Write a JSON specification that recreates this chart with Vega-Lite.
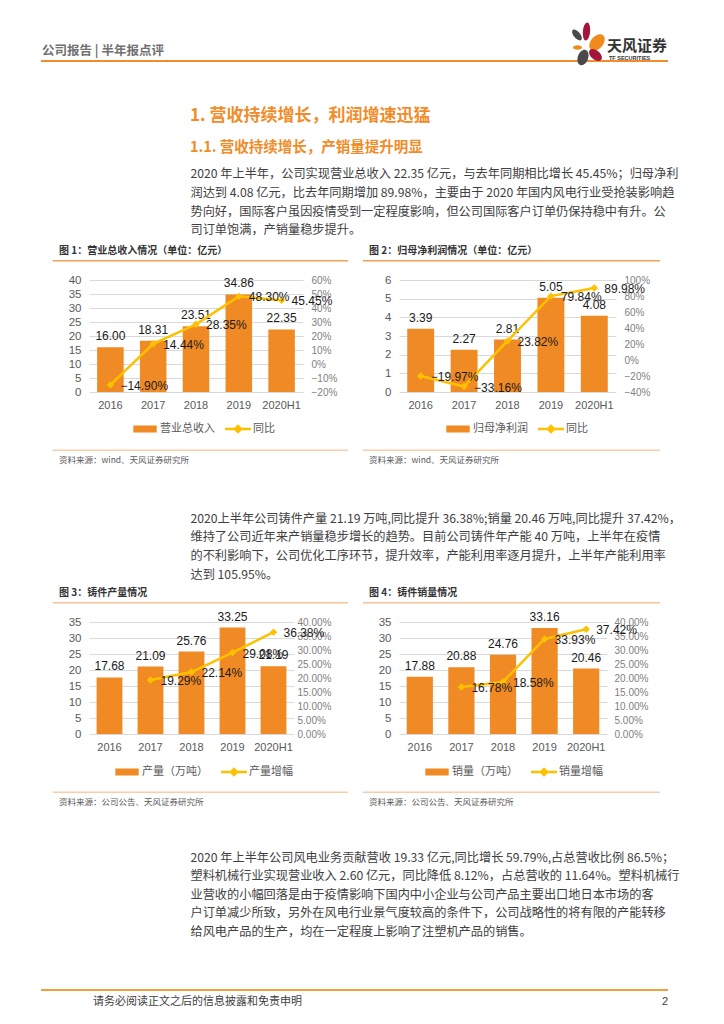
{
  "$schema": "https://vega.github.io/schema/vega-lite/v6.json",
  "padding": 0,
  "background": "white",
  "columns": 4,
  "spacing": 0,
  "bounds": "flush",
  "align": {"row": "each", "column": "none"},
  "resolve": {"scale": {"color": "independent"}, "legend": {"color": "independent"}},
  "config": {"view": {"stroke": null}, "font": "Noto Sans CJK SC"},
  "concat": [
    {
      "width": 89, "height": 280,
      "data": {"values": [{}]},
      "layer": [
        {"mark": {"type": "text", "text": "公司报告 | 半年报点评", "x": 42, "y": 51, "align": "left", "baseline": "middle", "fontSize": 12.5, "fontWeight": "bold", "color": "#707070"}},
        {"mark": {"type": "rule", "color": "#F08C2B", "strokeWidth": 2}, "encoding": {"x": {"value": 41}, "x2": {"value": 668}, "y": {"value": 61}}},
        {"mark": {"type": "point", "filled": true, "opacity": 1, "shape": "M0,-1C0.28,-1 0.5,-0.55 0.5,0C0.5,0.55 0.28,1 0,1C-0.28,1 -0.5,0.55 -0.5,0C-0.5,-0.55 -0.28,-1 0,-1Z", "size": 169, "angle": -40, "color": "#4A4A4A"}, "encoding": {"x": {"value": 577}, "y": {"value": 35}}},
        {"mark": {"type": "point", "filled": true, "opacity": 1, "shape": "M0,-1C0.22,-1 0.4,-0.55 0.4,0C0.4,0.55 0.22,1 0,1C-0.22,1 -0.4,0.55 -0.4,0C-0.4,-0.55 -0.22,-1 0,-1Z", "size": 324, "angle": 5, "color": "#A3153A"}, "encoding": {"x": {"value": 586.5}, "y": {"value": 31.5}}},
        {"mark": {"type": "point", "filled": true, "opacity": 1, "shape": "M0,-1C0.36,-1 0.65,-0.55 0.65,0C0.65,0.55 0.36,1 0,1C-0.36,1 -0.65,0.55 -0.65,0C-0.65,-0.55 -0.36,-1 0,-1Z", "size": 361, "angle": 40, "color": "#F08A1C"}, "encoding": {"x": {"value": 597}, "y": {"value": 42.5}}},
        {"mark": {"type": "point", "filled": true, "opacity": 1, "shape": "M0,-1C0.28,-1 0.5,-0.55 0.5,0C0.5,0.55 0.28,1 0,1C-0.28,1 -0.5,0.55 -0.5,0C-0.5,-0.55 -0.28,-1 0,-1Z", "size": 81, "angle": 90, "color": "#F08A1C"}, "encoding": {"x": {"value": 577.5}, "y": {"value": 47.5}}},
        {"mark": {"type": "point", "filled": true, "opacity": 1, "shape": "M0,-1C0.33,-1 0.6,-0.55 0.6,0C0.6,0.55 0.33,1 0,1C-0.33,1 -0.6,0.55 -0.6,0C-0.6,-0.55 -0.33,-1 0,-1Z", "size": 225, "angle": 130, "color": "#A3153A"}, "encoding": {"x": {"value": 595.5}, "y": {"value": 55}}},
        {"mark": {"type": "point", "filled": true, "opacity": 1, "shape": "M0,-1C0.36,-1 0.65,-0.55 0.65,0C0.65,0.55 0.36,1 0,1C-0.36,1 -0.65,0.55 -0.65,0C-0.65,-0.55 -0.36,-1 0,-1Z", "size": 256, "angle": 20, "color": "#4A4A4A"}, "encoding": {"x": {"value": 583}, "y": {"value": 57.5}}},
        {"mark": {"type": "text", "text": "天风证券", "x": 607, "y": 46, "align": "left", "baseline": "middle", "fontSize": 15, "fontWeight": "bold", "color": "#333333"}},
        {"mark": {"type": "text", "text": "TF SECURITIES", "x": 609, "y": 57.5, "align": "left", "baseline": "middle", "fontSize": 5.5, "fontWeight": "bold", "color": "#333333", "font": "Liberation Sans"}},
        {"mark": {"type": "text", "text": "1. 营收持续增长，利润增速迅猛", "x": 190, "y": 116, "align": "left", "baseline": "middle", "fontSize": 17, "fontWeight": "bold", "color": "#F28C28"}},
        {"mark": {"type": "text", "text": "1.1. 营收持续增长，产销量提升明显", "x": 190, "y": 147.5, "align": "left", "baseline": "middle", "fontSize": 14.5, "fontWeight": "bold", "color": "#F28C28"}},
        {"mark": {"type": "text", "text": ["2020 年上半年，公司实现营业总收入 22.35 亿元，与去年同期相比增长 45.45%；归母净利", "润达到 4.08 亿元，比去年同期增加 89.98%，主要由于 2020  年国内风电行业受抢装影响趋", "势向好，国际客户虽因疫情受到一定程度影响，但公司国际客户订单仍保持稳中有升。公", "司订单饱满，产销量稳步提升。"], "x": 190.5, "y": 178, "align": "left", "baseline": "alphabetic", "lineHeight": 18.8, "fontSize": 12.2, "color": "#404040"}},
        {"mark": {"type": "text", "text": "图 1：营业总收入情况（单位：亿元）", "x": 59, "y": 251.3, "align": "left", "baseline": "middle", "fontSize": 10, "fontWeight": "bold", "color": "#333333"}},
        {"mark": {"type": "text", "text": "图 2：归母净利润情况（单位：亿元）", "x": 369, "y": 251.3, "align": "left", "baseline": "middle", "fontSize": 10, "fontWeight": "bold", "color": "#333333"}},
        {"mark": {"type": "rule", "color": "#F2A05A", "strokeWidth": 1.5}, "encoding": {"x": {"value": 52.7}, "x2": {"value": 348}, "y": {"value": 260.7}}},
        {"mark": {"type": "rule", "color": "#F2A05A", "strokeWidth": 1.5}, "encoding": {"x": {"value": 363}, "x2": {"value": 660}, "y": {"value": 260.7}}}
      ]
    },
    {"width": 1, "height": 1, "data": {"values": []}, "mark": "text"},
    {"width": 1, "height": 1, "data": {"values": []}, "mark": "text"},
    {"width": 1, "height": 1, "data": {"values": []}, "mark": "text"},

    {"width": 89, "height": 112, "data": {"values": []}, "mark": "text"},
    {
      "width": 214, "height": 112,
      "data": {"values": [
        {"year": "2016", "v": 16.00, "g": -0.1490},
        {"year": "2017", "v": 18.31, "g": 0.1444},
        {"year": "2018", "v": 23.51, "g": 0.2835},
        {"year": "2019", "v": 34.86, "g": 0.4830},
        {"year": "2020H1", "v": 22.35, "g": 0.4545}
      ]},
      "encoding": {"x": {"field": "year", "type": "nominal", "sort": null, "scale": {"paddingInner": 0.38, "paddingOuter": 0.19}, "axis": {"title": null, "labelAngle": 0, "domain": false, "ticks": false, "labelPadding": 7, "labelFontSize": 11, "labelColor": "#595959", "labelFont": "Liberation Sans"}}},
      "layer": [
        {
          "encoding": {"y": {"field": "v", "type": "quantitative", "scale": {"domain": [0, 40], "nice": false}, "axis": {"title": null, "values": [0, 5, 10, 15, 20, 25, 30, 35, 40], "grid": true, "gridColor": "#D9D9D9", "domain": false, "ticks": false, "labelPadding": 8, "labelFontSize": 11.5, "labelColor": "#595959", "labelFont": "Liberation Sans"}}},
          "layer": [
            {"mark": {"type": "bar"}, "encoding": {"color": {"datum": "营业总收入", "scale": {"domain": ["营业总收入", "同比"], "range": ["#F08A24", "#FFC000"]}, "legend": {"orient": "none", "legendX": 43, "legendY": 136, "direction": "horizontal", "title": null, "labelFontSize": 11, "labelColor": "#595959", "labelFont": "Noto Sans CJK SC", "symbolSize": 676, "labelOffset": 2, "columnPadding": 10, "padding": 0, "symbolType": "M-0.9,-0.27H0.9V0.27H-0.9Z", "encode": {"symbols": {"update": {"shape": {"signal": "datum.value === '同比' ? 'M-1,-0.09H1V0.09H-1Z M0,-0.37L0.37,0L0,0.37L-0.37,0Z' : 'M-0.9,-0.27H0.9V0.27H-0.9Z'"}, "fill": {"signal": "datum.value === '同比' ? '#FFC000' : '#F08A24'"}, "stroke": {"value": "transparent"}, "strokeWidth": {"value": 0}, "opacity": {"value": 1}}}}}}}},
            {"mark": {"type": "text", "dy": -11, "fontSize": 12, "font": "Liberation Sans", "color": "#1a1a1a"}, "encoding": {"text": {"field": "v", "format": ".2f"}}}
          ]
        },
        {
          "encoding": {"y": {"field": "g", "type": "quantitative", "scale": {"domain": [-0.2, 0.6], "nice": false, "zero": false}, "axis": {"orient": "right", "title": null, "values": [-0.2, -0.1, 0, 0.1, 0.2, 0.3, 0.4, 0.5, 0.6], "format": ".0%", "grid": false, "domain": false, "ticks": false, "labelPadding": 8, "labelFontSize": 10, "labelColor": "#7f7f7f", "labelFont": "Liberation Sans"}}},
          "layer": [
            {"mark": {"type": "line", "strokeWidth": 2.5, "point": {"shape": "diamond", "size": 55, "filled": true, "opacity": 1}}, "encoding": {"color": {"datum": "同比"}}},
            {"mark": {"type": "text", "align": "left", "dx": 10, "dy": 1, "fontSize": 12, "font": "Liberation Sans", "color": "#1a1a1a"}, "encoding": {"text": {"field": "g", "format": ".2%"}}}
          ]
        }
      ],
      "resolve": {"scale": {"y": "independent"}}
    },
    {"width": 77, "height": 112, "data": {"values": []}, "mark": "text"},
    {
      "width": 217, "height": 112,
      "data": {"values": [
        {"year": "2016", "v": 3.39, "g": -0.1997},
        {"year": "2017", "v": 2.27, "g": -0.3316},
        {"year": "2018", "v": 2.81, "g": 0.2382},
        {"year": "2019", "v": 5.05, "g": 0.7984},
        {"year": "2020H1", "v": 4.08, "g": 0.8998}
      ]},
      "encoding": {"x": {"field": "year", "type": "nominal", "sort": null, "scale": {"paddingInner": 0.38, "paddingOuter": 0.19}, "axis": {"title": null, "labelAngle": 0, "domain": false, "ticks": false, "labelPadding": 7, "labelFontSize": 11, "labelColor": "#595959", "labelFont": "Liberation Sans"}}},
      "layer": [
        {
          "encoding": {"y": {"field": "v", "type": "quantitative", "scale": {"domain": [0, 6], "nice": false}, "axis": {"title": null, "values": [0, 1, 2, 3, 4, 5, 6], "grid": true, "gridColor": "#D9D9D9", "domain": false, "ticks": false, "labelPadding": 8, "labelFontSize": 11.5, "labelColor": "#595959", "labelFont": "Liberation Sans"}}},
          "layer": [
            {"mark": {"type": "bar"}, "encoding": {"color": {"datum": "归母净利润", "scale": {"domain": ["归母净利润", "同比"], "range": ["#F08A24", "#FFC000"]}, "legend": {"orient": "none", "legendX": 46, "legendY": 136, "direction": "horizontal", "title": null, "labelFontSize": 11, "labelColor": "#595959", "labelFont": "Noto Sans CJK SC", "symbolSize": 676, "labelOffset": 2, "columnPadding": 10, "padding": 0, "symbolType": "M-0.9,-0.27H0.9V0.27H-0.9Z", "encode": {"symbols": {"update": {"shape": {"signal": "datum.value === '同比' ? 'M-1,-0.09H1V0.09H-1Z M0,-0.37L0.37,0L0,0.37L-0.37,0Z' : 'M-0.9,-0.27H0.9V0.27H-0.9Z'"}, "fill": {"signal": "datum.value === '同比' ? '#FFC000' : '#F08A24'"}, "stroke": {"value": "transparent"}, "strokeWidth": {"value": 0}, "opacity": {"value": 1}}}}}}}},
            {"mark": {"type": "text", "dy": -11, "fontSize": 12, "font": "Liberation Sans", "color": "#1a1a1a"}, "encoding": {"text": {"field": "v", "format": ".2f"}}}
          ]
        },
        {
          "encoding": {"y": {"field": "g", "type": "quantitative", "scale": {"domain": [-0.4, 1.0], "nice": false, "zero": false}, "axis": {"orient": "right", "title": null, "values": [-0.4, -0.2, 0, 0.2, 0.4, 0.6, 0.8, 1.0], "format": ".0%", "grid": false, "domain": false, "ticks": false, "labelPadding": 8, "labelFontSize": 10, "labelColor": "#7f7f7f", "labelFont": "Liberation Sans"}}},
          "layer": [
            {"mark": {"type": "line", "strokeWidth": 2.5, "point": {"shape": "diamond", "size": 55, "filled": true, "opacity": 1}}, "encoding": {"color": {"datum": "同比"}}},
            {"mark": {"type": "text", "align": "left", "dx": 10, "dy": 1, "fontSize": 12, "font": "Liberation Sans", "color": "#1a1a1a"}, "encoding": {"text": {"field": "g", "format": ".2%"}}}
          ]
        }
      ],
      "resolve": {"scale": {"y": "independent"}}
    },

    {
      "width": 89, "height": 230,
      "data": {"values": [{}]},
      "layer": [
        {"mark": {"type": "rule", "color": "#F9CDA8", "strokeWidth": 1.5}, "encoding": {"x": {"value": 52.7}, "x2": {"value": 348}, "y": {"value": 58.3}}},
        {"mark": {"type": "rule", "color": "#F9CDA8", "strokeWidth": 1.5}, "encoding": {"x": {"value": 363}, "x2": {"value": 660}, "y": {"value": 58.3}}},
        {"mark": {"type": "text", "text": "资料来源：wind、天风证券研究所", "x": 59, "y": 67.7, "align": "left", "baseline": "middle", "fontSize": 8.5, "color": "#595959"}},
        {"mark": {"type": "text", "text": "资料来源：wind、天风证券研究所", "x": 369, "y": 67.7, "align": "left", "baseline": "middle", "fontSize": 8.5, "color": "#595959"}},
        {"mark": {"type": "text", "text": ["2020上半年公司铸件产量 21.19 万吨,同比提升 36.38%;销量 20.46 万吨,同比提升 37.42%，", "维持了公司近年来产销量稳步增长的趋势。目前公司铸件年产能  40 万吨，上半年在疫情", "的不利影响下，公司优化工序环节，提升效率，产能利用率逐月提升，上半年产能利用率", "达到 105.95%。"], "x": 190.5, "y": 130.6, "align": "left", "baseline": "alphabetic", "lineHeight": 18.9, "fontSize": 12.2, "color": "#404040"}},
        {"mark": {"type": "text", "text": "图 3：铸件产量情况", "x": 59, "y": 201.3, "align": "left", "baseline": "middle", "fontSize": 10, "fontWeight": "bold", "color": "#333333"}},
        {"mark": {"type": "text", "text": "图 4：铸件销量情况", "x": 369, "y": 201.3, "align": "left", "baseline": "middle", "fontSize": 10, "fontWeight": "bold", "color": "#333333"}},
        {"mark": {"type": "rule", "color": "#F7C29A", "strokeWidth": 1.5}, "encoding": {"x": {"value": 52.7}, "x2": {"value": 348}, "y": {"value": 210.7}}},
        {"mark": {"type": "rule", "color": "#F7C29A", "strokeWidth": 1.5}, "encoding": {"x": {"value": 363}, "x2": {"value": 660}, "y": {"value": 210.7}}}
      ]
    },
    {"width": 1, "height": 1, "data": {"values": []}, "mark": "text"},
    {"width": 1, "height": 1, "data": {"values": []}, "mark": "text"},
    {"width": 1, "height": 1, "data": {"values": []}, "mark": "text"},

    {"width": 89, "height": 112, "data": {"values": []}, "mark": "text"},
    {
      "width": 205, "height": 112,
      "data": {"values": [
        {"year": "2016", "v": 17.68},
        {"year": "2017", "v": 21.09, "g": 0.1929},
        {"year": "2018", "v": 25.76, "g": 0.2214},
        {"year": "2019", "v": 33.25, "g": 0.2908},
        {"year": "2020H1", "v": 21.19, "g": 0.3638}
      ]},
      "encoding": {"x": {"field": "year", "type": "nominal", "sort": null, "scale": {"paddingInner": 0.37, "paddingOuter": 0.185}, "axis": {"title": null, "labelAngle": 0, "domain": false, "ticks": false, "labelPadding": 7, "labelFontSize": 11, "labelColor": "#595959", "labelFont": "Liberation Sans"}}},
      "layer": [
        {
          "encoding": {"y": {"field": "v", "type": "quantitative", "scale": {"domain": [0, 35], "nice": false}, "axis": {"title": null, "values": [0, 5, 10, 15, 20, 25, 30, 35], "grid": true, "gridColor": "#D9D9D9", "domain": false, "ticks": false, "labelPadding": 8, "labelFontSize": 11.5, "labelColor": "#595959", "labelFont": "Liberation Sans"}}},
          "layer": [
            {"mark": {"type": "bar"}, "encoding": {"color": {"datum": "产量（万吨）", "scale": {"domain": ["产量（万吨）", "产量增幅"], "range": ["#F08A24", "#FFC000"]}, "legend": {"orient": "none", "legendX": 25, "legendY": 137, "direction": "horizontal", "title": null, "labelFontSize": 11, "labelColor": "#595959", "labelFont": "Noto Sans CJK SC", "symbolSize": 676, "labelOffset": 2, "columnPadding": 13, "padding": 0, "symbolType": "M-0.9,-0.27H0.9V0.27H-0.9Z", "encode": {"symbols": {"update": {"shape": {"signal": "datum.value === '产量增幅' ? 'M-1,-0.09H1V0.09H-1Z M0,-0.37L0.37,0L0,0.37L-0.37,0Z' : 'M-0.9,-0.27H0.9V0.27H-0.9Z'"}, "fill": {"signal": "datum.value === '产量增幅' ? '#FFC000' : '#F08A24'"}, "stroke": {"value": "transparent"}, "strokeWidth": {"value": 0}, "opacity": {"value": 1}}}}}}}},
            {"mark": {"type": "text", "dy": -11, "fontSize": 12, "font": "Liberation Sans", "color": "#1a1a1a"}, "encoding": {"text": {"field": "v", "format": ".2f"}}}
          ]
        },
        {
          "encoding": {"y": {"field": "g", "type": "quantitative", "scale": {"domain": [0, 0.4], "nice": false}, "axis": {"orient": "right", "title": null, "values": [0, 0.05, 0.1, 0.15, 0.2, 0.25, 0.3, 0.35, 0.4], "format": ".2%", "grid": false, "domain": false, "ticks": false, "labelPadding": 3, "labelFontSize": 10, "labelColor": "#7f7f7f", "labelFont": "Liberation Sans"}}},
          "layer": [
            {"mark": {"type": "line", "strokeWidth": 2.5, "point": {"shape": "diamond", "size": 55, "filled": true, "opacity": 1}}, "encoding": {"color": {"datum": "产量增幅"}}},
            {"mark": {"type": "text", "align": "left", "dx": 10, "dy": 1, "fontSize": 12, "font": "Liberation Sans", "color": "#1a1a1a"}, "encoding": {"text": {"field": "g", "format": ".2%"}}}
          ]
        }
      ],
      "resolve": {"scale": {"y": "independent"}}
    },
    {"width": 96, "height": 112, "data": {"values": []}, "mark": "text"},
    {
      "width": 208, "height": 112,
      "data": {"values": [
        {"year": "2016", "v": 17.88},
        {"year": "2017", "v": 20.88, "g": 0.1678},
        {"year": "2018", "v": 24.76, "g": 0.1858},
        {"year": "2019", "v": 33.16, "g": 0.3393},
        {"year": "2020H1", "v": 20.46, "g": 0.3742}
      ]},
      "encoding": {"x": {"field": "year", "type": "nominal", "sort": null, "scale": {"paddingInner": 0.37, "paddingOuter": 0.185}, "axis": {"title": null, "labelAngle": 0, "domain": false, "ticks": false, "labelPadding": 7, "labelFontSize": 11, "labelColor": "#595959", "labelFont": "Liberation Sans"}}},
      "layer": [
        {
          "encoding": {"y": {"field": "v", "type": "quantitative", "scale": {"domain": [0, 35], "nice": false}, "axis": {"title": null, "values": [0, 5, 10, 15, 20, 25, 30, 35], "grid": true, "gridColor": "#D9D9D9", "domain": false, "ticks": false, "labelPadding": 8, "labelFontSize": 11.5, "labelColor": "#595959", "labelFont": "Liberation Sans"}}},
          "layer": [
            {"mark": {"type": "bar"}, "encoding": {"color": {"datum": "销量（万吨）", "scale": {"domain": ["销量（万吨）", "销量增幅"], "range": ["#F08A24", "#FFC000"]}, "legend": {"orient": "none", "legendX": 25, "legendY": 137, "direction": "horizontal", "title": null, "labelFontSize": 11, "labelColor": "#595959", "labelFont": "Noto Sans CJK SC", "symbolSize": 676, "labelOffset": 2, "columnPadding": 13, "padding": 0, "symbolType": "M-0.9,-0.27H0.9V0.27H-0.9Z", "encode": {"symbols": {"update": {"shape": {"signal": "datum.value === '销量增幅' ? 'M-1,-0.09H1V0.09H-1Z M0,-0.37L0.37,0L0,0.37L-0.37,0Z' : 'M-0.9,-0.27H0.9V0.27H-0.9Z'"}, "fill": {"signal": "datum.value === '销量增幅' ? '#FFC000' : '#F08A24'"}, "stroke": {"value": "transparent"}, "strokeWidth": {"value": 0}, "opacity": {"value": 1}}}}}}}},
            {"mark": {"type": "text", "dy": -11, "fontSize": 12, "font": "Liberation Sans", "color": "#1a1a1a"}, "encoding": {"text": {"field": "v", "format": ".2f"}}}
          ]
        },
        {
          "encoding": {"y": {"field": "g", "type": "quantitative", "scale": {"domain": [0, 0.4], "nice": false}, "axis": {"orient": "right", "title": null, "values": [0, 0.05, 0.1, 0.15, 0.2, 0.25, 0.3, 0.35, 0.4], "format": ".2%", "grid": false, "domain": false, "ticks": false, "labelPadding": 7, "labelFontSize": 10, "labelColor": "#7f7f7f", "labelFont": "Liberation Sans"}}},
          "layer": [
            {"mark": {"type": "line", "strokeWidth": 2.5, "point": {"shape": "diamond", "size": 55, "filled": true, "opacity": 1}}, "encoding": {"color": {"datum": "销量增幅"}}},
            {"mark": {"type": "text", "align": "left", "dx": 10, "dy": 1, "fontSize": 12, "font": "Liberation Sans", "color": "#1a1a1a"}, "encoding": {"text": {"field": "g", "format": ".2%"}}}
          ]
        }
      ],
      "resolve": {"scale": {"y": "independent"}}
    },

    {
      "width": 89, "height": 290,
      "data": {"values": [{}]},
      "layer": [
        {"mark": {"type": "rule", "color": "#F9CDA8", "strokeWidth": 1.5}, "encoding": {"x": {"value": 52.7}, "x2": {"value": 348}, "y": {"value": 58.3}}},
        {"mark": {"type": "rule", "color": "#F9CDA8", "strokeWidth": 1.5}, "encoding": {"x": {"value": 363}, "x2": {"value": 660}, "y": {"value": 58.3}}},
        {"mark": {"type": "text", "text": "资料来源：公司公告、天风证券研究所", "x": 59, "y": 67.7, "align": "left", "baseline": "middle", "fontSize": 8.5, "color": "#595959"}},
        {"mark": {"type": "text", "text": "资料来源：公司公告、天风证券研究所", "x": 369, "y": 67.7, "align": "left", "baseline": "middle", "fontSize": 8.5, "color": "#595959"}},
        {"mark": {"type": "text", "text": ["2020 年上半年公司风电业务贡献营收 19.33 亿元,同比增长 59.79%,占总营收比例 86.5%；", "塑料机械行业实现营业收入 2.60 亿元，同比降低 8.12%，占总营收的 11.64%。塑料机械行", "业营收的小幅回落是由于疫情影响下国内中小企业与公司产品主要出口地日本市场的客", "户订单减少所致，另外在风电行业景气度较高的条件下，公司战略性的将有限的产能转移", "给风电产品的生产，均在一定程度上影响了注塑机产品的销售。"], "x": 190.5, "y": 127.6, "align": "left", "baseline": "alphabetic", "lineHeight": 18.5, "fontSize": 12.2, "color": "#404040"}},
        {"mark": {"type": "rule", "color": "#F2A13A", "strokeWidth": 2}, "encoding": {"x": {"value": 41}, "x2": {"value": 668}, "y": {"value": 256}}},
        {"mark": {"type": "text", "text": "请务必阅读正文之后的信息披露和免责申明", "x": 93, "y": 268, "align": "left", "baseline": "middle", "fontSize": 11, "color": "#404040"}},
        {"mark": {"type": "text", "text": "2", "x": 668, "y": 268, "align": "right", "baseline": "middle", "fontSize": 11, "color": "#404040", "font": "Liberation Sans"}}
      ]
    },
    {"width": 1, "height": 1, "data": {"values": []}, "mark": "text"},
    {"width": 1, "height": 1, "data": {"values": []}, "mark": "text"},
    {"width": 1, "height": 1, "data": {"values": []}, "mark": "text"}
  ]
}
